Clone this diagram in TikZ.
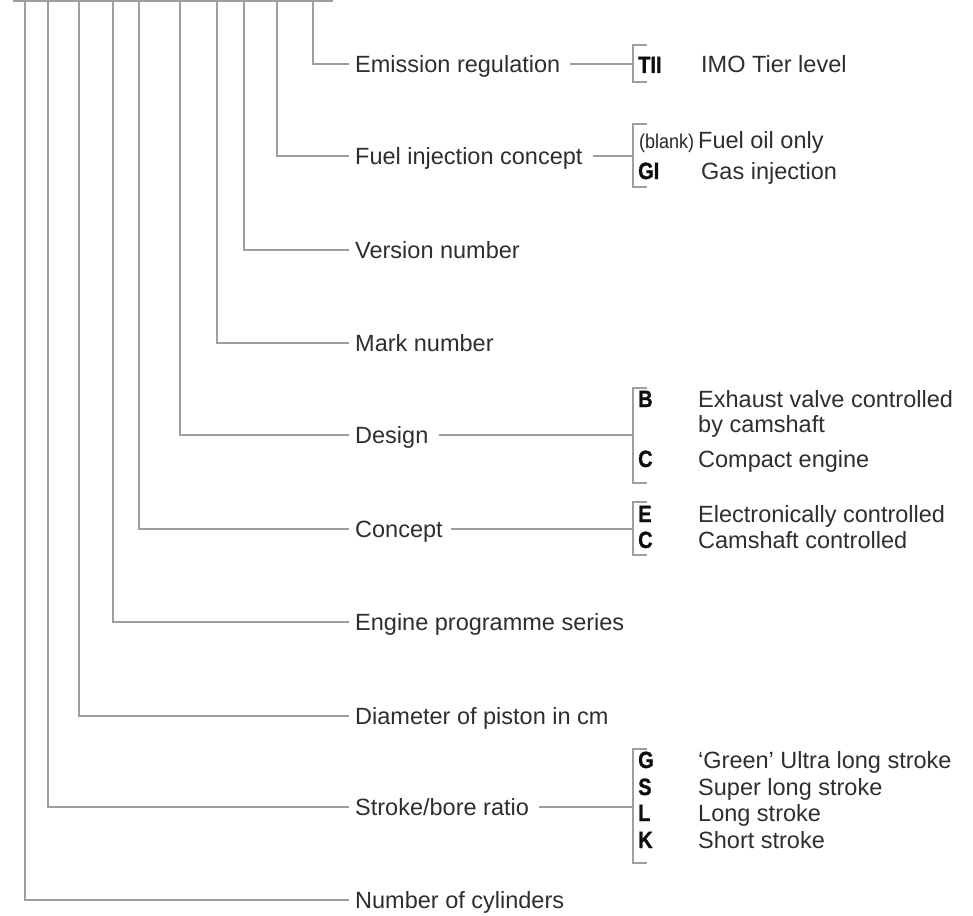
\documentclass[tikz,border=0pt]{standalone}
\usepackage{fontspec}
\setmainfont{Liberation Sans}
\newfontfamily\codefont[FakeStretch=0.85,FakeBold=1.2]{Liberation Sans Bold}
\newfontfamily\narrowfont[FakeStretch=0.9]{Liberation Sans}
\begin{document}
\begin{tikzpicture}[x=1pt,y=-1pt,
  ln/.style={draw=black!38, line width=1.3pt},
  lab/.style={anchor=west, inner xsep=6pt, inner ysep=0pt, text height=17pt, text depth=0pt,
    font=\fontsize{23.5}{27}\selectfont, text=black!82},
  desc/.style={anchor=base west, inner sep=0pt, font=\fontsize{23.5}{25}\selectfont, text=black!82, align=left},
  code/.style={anchor=base west, inner sep=0pt, font=\codefont\fontsize{23.5}{25}\selectfont, text=black!95},
  small/.style={anchor=base west, inner sep=0pt, font=\narrowfont\fontsize{20}{22}\selectfont, text=black!85}]
\useasboundingbox (0,0) rectangle (973,915);
% top line
\coordinate (topL) at (13,1);
\coordinate (topR) at (333,1);
\draw[ln] (topL) -- (topR);
% tops of verticals
\foreach \n/\x in {a/313,b/277,c/244,d/217,e/180,f/139,g/113,h/79,i/48,j/25}{
  \coordinate (t\n) at (\x,0);
}
% labels
\node[lab] (la) at (349,64) {Emission regulation};
\node[lab] (lb) at (349,156) {Fuel injection concept};
\node[lab] (lc) at (349,250) {Version number};
\node[lab] (ld) at (349,343) {Mark number};
\node[lab] (le) at (349,435) {Design};
\node[lab] (lf) at (349,529) {Concept};
\node[lab] (lg) at (349,622) {Engine programme series};
\node[lab] (lh) at (349,716) {Diameter of piston in cm};
\node[lab] (li) at (349,807) {Stroke/bore ratio};
\node[lab] (lj) at (349,900) {Number of cylinders};
\foreach \n in {a,b,c,d,e,f,g,h,i,j}{
  \draw[ln] (t\n) |- (l\n.west);
}
% brackets
\coordinate (ba) at (633,64);
\coordinate (bb) at (633,156);
\coordinate (be) at (633,435);
\coordinate (bf) at (633,529);
\coordinate (bi) at (633,807);
\draw[ln] ([xshift=4pt]la.east) -- (ba);
\draw[ln] ([xshift=4pt]lb.east) -- (bb);
\draw[ln] ([xshift=4pt]le.east) -- (be);
\draw[ln] ([xshift=2pt]lf.east) -- (bf);
\draw[ln] ([xshift=4pt]li.east) -- (bi);
\draw[ln] (647,45) -- (633,45) -- (633,82) -- (647,82);
\draw[ln] (647,124) -- (633,124) -- (633,187) -- (647,187);
\draw[ln] (647,388) -- (633,388) -- (633,483) -- (647,483);
\draw[ln] (647,502) -- (633,502) -- (633,555) -- (647,555);
\draw[ln] (647,749) -- (633,749) -- (633,863) -- (647,863);
% emission
\node[code] (cTII) at (638,73) {TII};
\node[desc] (dTII) at (701,73) {IMO Tier level};
% fuel
\node[small] (cblank) at (639,148) {(blank)};
\node[desc] (dblank) at (698,148) {Fuel oil only};
\node[code] (cGI) at (638,179) {GI};
\node[desc] (dGI) at (701,179) {Gas injection};
% design
\node[code] (cB) at (638,407) {B};
\node[desc] (dB) at (698,432) {Exhaust valve controlled\\by camshaft};
\node[code] (cC1) at (638,467) {C};
\node[desc] (dC1) at (698,467) {Compact engine};
% concept
\node[code] (cE) at (638,522) {E};
\node[desc] (dE) at (698,522) {Electronically controlled};
\node[code] (cC2) at (638,548) {C};
\node[desc] (dC2) at (698,548) {Camshaft controlled};
% stroke
\node[code] (cG) at (638,768) {G};
\node[desc] (dG) at (698,768) {‘Green’ Ultra long stroke};
\node[code] (cS) at (638,795) {S};
\node[desc] (dS) at (698,795) {Super long stroke};
\node[code] (cL) at (638,821) {L};
\node[desc] (dL) at (698,821) {Long stroke};
\node[code] (cK) at (638,848) {K};
\node[desc] (dK) at (698,848) {Short stroke};
\end{tikzpicture}
\end{document}
